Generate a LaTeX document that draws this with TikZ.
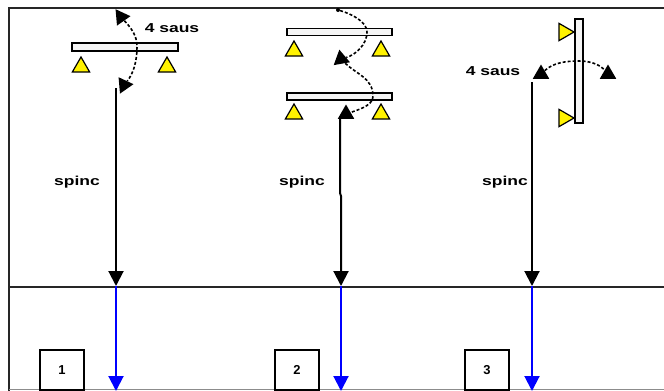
\documentclass[tikz,border=0pt]{standalone}
\usepackage{fontspec}
\setmainfont{Liberation Sans}
\usetikzlibrary{arrows.meta,shapes.geometric}
\begin{document}
\begin{tikzpicture}[x=1bp,y=-1bp,
 frame/.style={line width=2bp, black!85},
 beam/.style={draw, fill=gray!8, line width=1.6bp, inner sep=0},
 cone/.style={regular polygon, regular polygon sides=3, draw, fill=yellow, line width=1.2bp, minimum size=20bp, inner sep=0},
 tip/.style={regular polygon, regular polygon sides=3, fill=black, minimum size=19bp, inner sep=0},
 jump/.style={dash pattern=on 3bp off 2bp, line width=1.6bp},
 flow/.style={line width=2bp, -{Triangle[width=15bp,length=15bp]}},
 outflow/.style={flow, blue},
 lbl/.style={inner sep=0, font=\fontsize{13}{15}\selectfont\bfseries},
 numbox/.style={draw, line width=1.6bp, minimum width=44bp, minimum height=40bp, inner sep=0, font=\fontsize{13}{15}\selectfont\bfseries}
]
\useasboundingbox (0,0) rectangle (664,390);
\clip (0,0) rectangle (664,390);
% frame
\coordinate (tl) at (9,8);
\coordinate (tr) at (666,8);
\coordinate (bl) at (9,392);
\coordinate (dl) at (9,287);
\coordinate (dr) at (666,287);
\coordinate (ql) at (9,389.5);
\coordinate (qr) at (666,389.5);
\draw[frame] (bl) -- (tl) -- (tr);
\draw[frame] (dl) -- (dr);
\draw[line width=1bp, black!45] (ql) -- (qr);

% panel 1
\node[beam, minimum width=106bp, minimum height=8bp] (b1) at (125,47) {};
\node[cone] (c1l) at (81,67) {};
\node[cone] (c1r) at (167,67) {};
\node[tip, shape border rotate=35] (t1a) at (121,17) {};
\node[tip, shape border rotate=35] (t1b) at (124,85) {};
\draw[jump] (t1a) .. controls (131,28) and (137,35) .. (137,47) .. controls (137,62) and (133,74) .. (t1b);
\node[lbl] (j1) at (172,28) {\scalebox{1.35}[1]{4 saus}};
\node[lbl] (sp1) at (77,182) {\scalebox{1.35}[1]{spinc}};
\coordinate (s1) at (116,88);
\coordinate (e1) at (116,286);
\coordinate (f1) at (116,391);
\draw[flow] (s1) -- (e1);
\draw[outflow] (e1) -- (f1);
\node[numbox] (n1) at (62,370) {1};

% panel 2
\node[beam, minimum width=105bp, minimum height=7bp] (b2a) at (339.5,32) {};
\node[beam, minimum width=105bp, minimum height=7bp] (b2b) at (339.5,96.5) {};
\node[cone] (c2a) at (294,51) {};
\node[cone] (c2b) at (381,51) {};
\node[cone] (c2c) at (294,114) {};
\node[cone] (c2d) at (381,114) {};
\node[circle, fill, inner sep=0, minimum size=4bp] (d2) at (338,10) {};
\node[tip, shape border rotate=10] (t2a) at (341,59) {};
\node[tip] (t2b) at (346,114) {};
\draw[jump] (d2) .. controls (352,14) and (367,22) .. (367,32) .. controls (367,45) and (355,55) .. (t2a);
\draw[jump] (t2a) .. controls (356,74) and (373,78) .. (373,96) .. controls (373,104) and (364,108) .. (t2b);
\node[lbl] (sp2) at (302,182) {\scalebox{1.35}[1]{spinc}};
\coordinate (s2) at (340,117);
\coordinate (e2) at (341,286);
\coordinate (f2) at (341,391);
\draw[flow] (s2) -- (340,193) -- (341,196) -- (e2);
\draw[outflow] (e2) -- (f2);
\node[numbox] (n2) at (297,370) {2};

% panel 3
\node[beam, minimum width=8bp, minimum height=104bp] (b3) at (579,71) {};
\node[cone, shape border rotate=-90] (c3a) at (564,32) {};
\node[cone, shape border rotate=-90] (c3b) at (564,118) {};
\node[tip] (t3a) at (541,74) {};
\node[tip] (t3b) at (608,74) {};
\draw[jump] (t3a) .. controls (553,63) and (565,61) .. (579,61) .. controls (593,61) and (601,66) .. (t3b);
\node[lbl] (j3) at (493,71) {\scalebox{1.35}[1]{4 saus}};
\node[lbl] (sp3) at (505,182) {\scalebox{1.35}[1]{spinc}};
\coordinate (s3) at (532,82);
\coordinate (e3) at (532,286);
\coordinate (f3) at (532,391);
\draw[flow] (s3) -- (e3);
\draw[outflow] (e3) -- (f3);
\node[numbox] (n3) at (487,370) {3};
\end{tikzpicture}
\end{document}
